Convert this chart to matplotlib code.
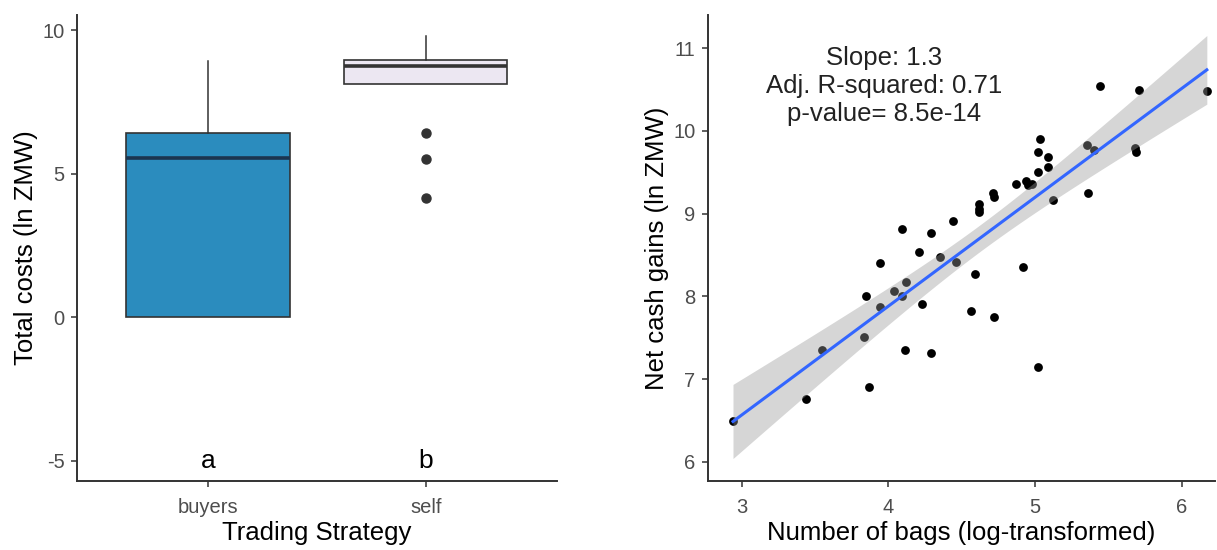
import numpy as np
from matplotlib import pyplot as plt

plt.rcParams['font.family'] = ['Liberation Sans', 'DejaVu Sans']

# left panel: total costs by trading strategy
strategies = ['buyers', 'self']
box_q1 = [0.0, 8.13]
box_median = [5.56, 8.75]
box_q3 = [6.43, 8.96]
whisker_low = [0.0, 8.13]
whisker_high = [8.92, 9.82]
outliers = [[], [6.43, 5.51, 4.16]]
box_colors = ['#2B8CBE', '#ECE7F2']
median_colors = ['#1B3550', '#333333']
group_letters = ['a', 'b']

# right panel: net cash gains vs number of bags
bags_log = [2.94, 3.44, 3.55, 3.87, 3.83, 3.85, 3.94, 3.94, 4.04, 4.12,
            4.09, 4.09, 4.11, 4.21, 4.23, 4.29, 4.29, 4.35, 4.44, 4.46,
            4.59, 4.56, 4.72, 4.92, 5.02, 5.44, 5.71, 6.17, 5.03, 5.02,
            5.09, 5.09, 5.02, 5.35, 5.40, 5.68, 5.69, 4.87, 4.94, 4.95,
            4.98, 5.12, 5.36, 4.71, 4.72, 4.62, 4.62, 4.62]
net_gains = [6.50, 6.76, 7.35, 6.90, 7.51, 8.00, 7.87, 8.41, 8.07, 8.18,
             8.00, 8.81, 7.35, 8.54, 7.91, 8.77, 7.32, 8.48, 8.91, 8.42,
             8.27, 7.82, 7.75, 8.36, 7.15, 10.54, 10.50, 10.48, 9.90, 9.74,
             9.69, 9.57, 9.51, 9.83, 9.77, 9.79, 9.74, 9.36, 9.40, 9.35,
             9.36, 9.17, 9.25, 9.25, 9.20, 9.12, 9.06, 9.02]
stats_text = 'Slope: 1.3\nAdj. R-squared: 0.71\np-value= 8.5e-14'

tick_gray = '#4D4D4D'
axis_col = '#333333'

fig = plt.figure(figsize=(12.17, 5.5), dpi=100)
ax1 = fig.add_axes([0.0633, 0.1255, 0.394, 0.847])
ax2 = fig.add_axes([0.5818, 0.1255, 0.4166, 0.847])

# boxplots from the summary stats
bstats = []
for i in range(len(strategies)):
    bstats.append({'q1': box_q1[i], 'med': box_median[i], 'q3': box_q3[i],
                   'whislo': whisker_low[i], 'whishi': whisker_high[i],
                   'fliers': outliers[i], 'label': strategies[i]})
positions = np.arange(1, len(strategies) + 1)
bp = ax1.bxp(bstats, positions=positions, widths=0.75, patch_artist=True,
             showcaps=False,
             boxprops=dict(edgecolor=axis_col, linewidth=1.2),
             whiskerprops=dict(color=axis_col, linewidth=1.1),
             flierprops=dict(marker='o', markerfacecolor='#333333',
                             markeredgecolor='#333333', markersize=6.5))
for patch, col in zip(bp['boxes'], box_colors):
    patch.set_facecolor(col)
for med, col in zip(bp['medians'], median_colors):
    med.set_color(col)
    med.set_linewidth(2.6)

for pos, letter in zip(positions, group_letters):
    ax1.text(pos, -5, letter, ha='center', va='center', fontsize=19, color='black')

ax1.set_xlim(0.4, 2.6)
ax1.set_ylim(-5.7, 10.53)
ax1.set_yticks([-5, 0, 5, 10])
ax1.set_yticklabels(['-5', '0', '5', '10'])
ax1.set_xticks(positions)
ax1.set_xticklabels(strategies)
ax1.set_xlabel('Trading Strategy', fontsize=18.5, labelpad=3)
ax1.set_ylabel('Total costs (ln ZMW)', fontsize=18.5, labelpad=3)

# scatter with linear fit and 95% band
x = np.array(bags_log)
y = np.array(net_gains)
ax2.scatter(x, y, s=40, color='black', zorder=2, linewidths=0)
slope, intercept = np.polyfit(x, y, 1)
n = len(x)
resid = y - (slope * x + intercept)
s_err = np.sqrt(np.sum(resid ** 2) / (n - 2))
sxx = np.sum((x - x.mean()) ** 2)
xg = np.linspace(x.min(), x.max(), 100)
yg = slope * xg + intercept
half = 2.013 * s_err * np.sqrt(1.0 / n + (xg - x.mean()) ** 2 / sxx)
ax2.fill_between(xg, yg - half, yg + half, color='#999999', alpha=0.4,
                 linewidth=0, zorder=3)
ax2.plot(xg, yg, color='#3366FF', linewidth=2.2, zorder=4)

ax2.text(3.97, 10.54, stats_text, ha='center', va='center', fontsize=18.5,
         color='#222222', linespacing=1.2)

ax2.set_xlim(2.77, 6.226)
ax2.set_ylim(5.77, 11.4)
ax2.set_xticks([3, 4, 5, 6])
ax2.set_yticks([6, 7, 8, 9, 10, 11])
ax2.set_xlabel('Number of bags (log-transformed)', fontsize=18.5, labelpad=3)
ax2.set_ylabel('Net cash gains (ln ZMW)', fontsize=18.5, labelpad=3)

for ax in (ax1, ax2):
    for side in ('top', 'right'):
        ax.spines[side].set_visible(False)
    for side in ('left', 'bottom'):
        ax.spines[side].set_color(axis_col)
        ax.spines[side].set_linewidth(1.4)
    ax.tick_params(axis='both', colors=axis_col, length=4, width=1.1,
                   labelsize=14.5, labelcolor=tick_gray, pad=5)
    ax.tick_params(axis='x', pad=8)

fig.savefig('out.png', dpi=100)
